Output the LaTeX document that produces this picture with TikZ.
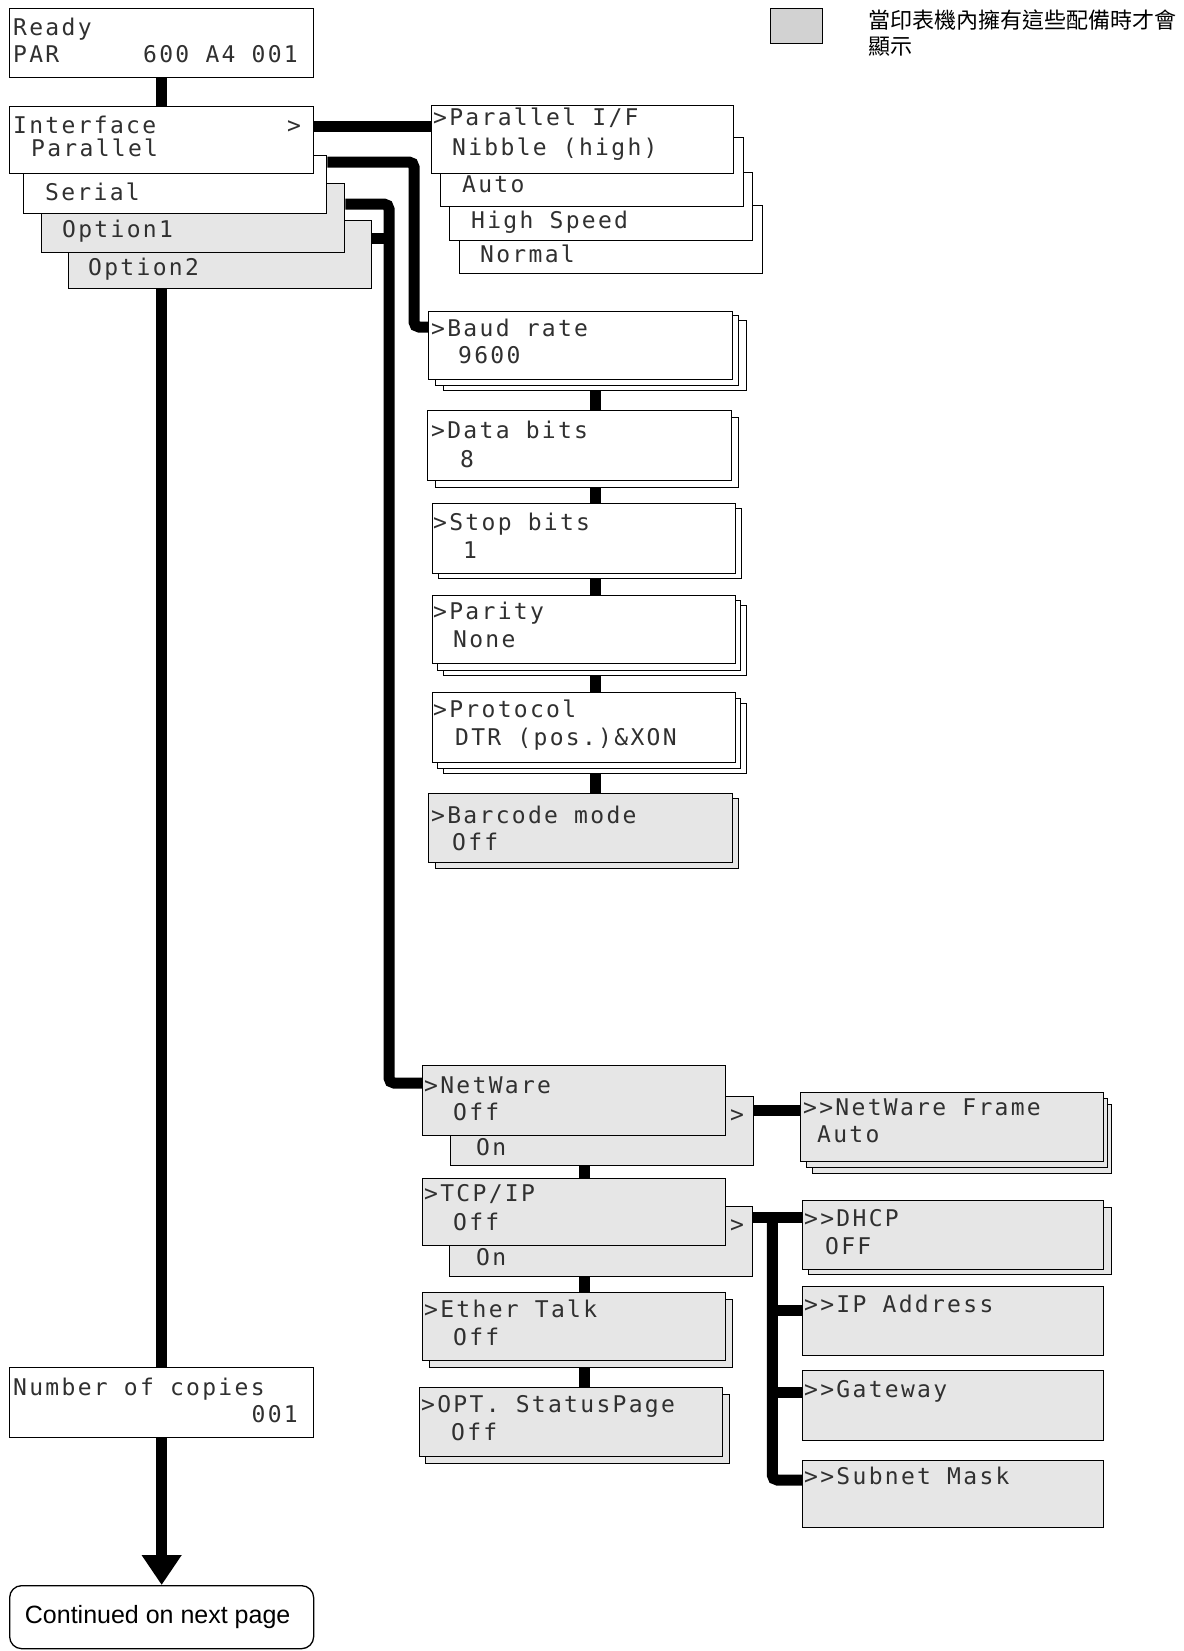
\documentclass[tikz,border=0pt]{standalone}
\usepackage{fontspec}
\setmainfont{Liberation Sans}
\newfontfamily\lcdfont[LetterSpace=10]{DejaVu Sans Mono}
\newfontfamily\cjkfont{Noto Sans CJK TC}
\usetikzlibrary{arrows.meta}
\definecolor{optgray}{HTML}{E6E6E6}
\definecolor{leggray}{HTML}{D2D2D2}
\definecolor{lcdink}{HTML}{303030}
\pgfdeclarelayer{bg}
\pgfsetlayers{bg,main}
\begin{document}
\begin{tikzpicture}[x=1pt,y=-1pt,
  box/.style={draw=black, line width=1.3pt, fill=white, anchor=north west, inner sep=0pt, minimum width=303pt, minimum height=68pt},
  opt/.style={box, fill=optgray},
  lcd/.style={anchor=base west, inner sep=0pt, text=lcdink, font=\lcdfont\fontsize{23}{28}\selectfont},
  lcdr/.style={lcd, anchor=base east},
  conn/.style={draw=black, line width=11pt, rounded corners=5pt},
  cjk/.style={anchor=base west, inner sep=0pt, font=\cjkfont\fontsize{22}{27}\selectfont}]
\useasboundingbox (0,0) rectangle (1183,1651);

% legend
\node[box, fill=leggray, minimum width=52pt, minimum height=35pt] (legend) at (770,8) {};
\node[cjk] (legend-t1) at (868,29) {當印表機內擁有這些配備時才會};
\node[cjk] (legend-t2) at (868,55) {顯示};

% main column
\node[box, minimum width=304pt, minimum height=69pt] (ready) at (9,8) {};
\node[lcd] (ready-t1) at (13,36) {Ready};
\node[lcd] (ready-t2) at (13,63) {PAR};
\node[lcdr] (ready-t3) at (298,63) {600 A4 001};

\node[opt] (option2) at (68,220) {};
\node[lcd] (option2-t) at (88,275) {Option2};
\node[opt, minimum height=69pt] (option1) at (41,183) {};
\node[lcd] (option1-t) at (62,237) {Option1};
\node[box, minimum height=58pt] (serial) at (23,155) {};
\node[lcd] (serial-t) at (45,200) {Serial};
\node[box, minimum width=304pt, minimum height=67pt] (interface) at (9,106) {};
\node[lcd] (interface-t1) at (13,133) {Interface};
\node[lcd] (interface-t2) at (31,157) {Parallel};
\node[lcd] (interface-t3) at (287,133) {>};

% parallel group
\node[box] (normal) at (459,205) {};
\node[lcd] (normal-t) at (480,262) {Normal};
\node[box] (highspeed) at (449,172) {};
\node[lcd] (highspeed-t) at (471,228) {High Speed};
\node[box, minimum height=69pt] (auto) at (440,137) {};
\node[lcd] (auto-t) at (462,192) {Auto};
\node[box, minimum width=302pt] (pif) at (431,105) {};
\node[lcd] (pif-t1) at (433,126) {>Parallel I/F};
\node[lcd] (pif-t2) at (452,155) {Nibble (high)};

% serial stack
\node[box, minimum height=70pt] (baud-s2) at (443,320) {};
\node[box, minimum height=70pt] (baud-s1) at (435,315) {};
\node[box, minimum width=304pt] (baud) at (428,311) {};
\node[lcd] (baud-t1) at (431,336) {>Baud rate};
\node[lcd] (baud-t2) at (458,363) {9600};

\node[box, minimum height=70pt] (data-s1) at (435,417) {};
\node[box, minimum width=304pt, minimum height=70pt] (data) at (427,410) {};
\node[lcd] (data-t1) at (431,438) {>Data bits};
\node[lcd] (data-t2) at (460,467) {8};

\node[box, minimum height=70pt] (stop-s1) at (438,508) {};
\node[box, minimum height=70pt] (stop) at (432,503) {};
\node[lcd] (stop-t1) at (433,530) {>Stop bits};
\node[lcd] (stop-t2) at (463,558) {1};

\node[box, minimum height=70pt] (parity-s2) at (443,605) {};
\node[box, minimum height=70pt] (parity-s1) at (437,600) {};
\node[box] (parity) at (432,595) {};
\node[lcd] (parity-t1) at (433,619) {>Parity};
\node[lcd] (parity-t2) at (453,647) {None};

\node[box, minimum height=70pt] (protocol-s2) at (443,703) {};
\node[box, minimum height=70pt] (protocol-s1) at (437,698) {};
\node[box, minimum height=70pt] (protocol) at (432,692) {};
\node[lcd] (protocol-t1) at (433,717) {>Protocol};
\node[lcd] (protocol-t2) at (455,745) {DTR (pos.)\&XON};

\node[opt, minimum height=70pt] (barcode-s1) at (435,798) {};
\node[opt, minimum width=304pt, minimum height=69pt] (barcode) at (428,793) {};
\node[lcd] (barcode-t1) at (431,823) {>Barcode mode};
\node[lcd] (barcode-t2) at (452,850) {Off};

% network stack
\node[opt, minimum height=69pt] (netOn) at (450,1096) {};
\node[lcd] (netOn-t) at (476,1155) {On};
\node[lcd] (netOn-m) at (730,1122) {>};
\node[opt, minimum height=70pt] (netware) at (422,1065) {};
\node[lcd] (netware-t1) at (424,1093) {>NetWare};
\node[lcd] (netware-t2) at (453,1120) {Off};

\node[opt, minimum height=70pt] (tcpOn) at (449,1206) {};
\node[lcd] (tcpOn-t) at (476,1265) {On};
\node[lcd] (tcpOn-m) at (730,1232) {>};
\node[opt, minimum height=67pt] (tcpip) at (422,1178) {};
\node[lcd] (tcpip-t1) at (424,1201) {>TCP/IP};
\node[lcd] (tcpip-t2) at (453,1230) {Off};

\node[opt] (ether-s1) at (429,1299) {};
\node[opt] (ether) at (422,1292) {};
\node[lcd] (ether-t1) at (424,1317) {>Ether Talk};
\node[lcd] (ether-t2) at (453,1345) {Off};

\node[opt, minimum width=304pt, minimum height=69pt] (optpage-s1) at (425,1394) {};
\node[opt, minimum height=69pt] (optpage) at (419,1387) {};
\node[lcd] (optpage-t1) at (421,1412) {>OPT. StatusPage};
\node[lcd] (optpage-t2) at (451,1440) {Off};

% right column
\node[opt, minimum width=299pt, minimum height=69pt] (nwf-s2) at (812,1104) {};
\node[opt, minimum width=301pt, minimum height=69pt] (nwf-s1) at (806,1098) {};
\node[opt, minimum height=69pt] (nwf) at (800,1092) {};
\node[lcd] (nwf-t1) at (803,1115) {>>NetWare Frame};
\node[lcd] (nwf-t2) at (817,1142) {Auto};

\node[opt, minimum height=67pt] (dhcp-s1) at (808,1207) {};
\node[opt, minimum width=301pt, minimum height=69pt] (dhcp) at (802,1200) {};
\node[lcd] (dhcp-t1) at (804,1226) {>>DHCP};
\node[lcd] (dhcp-t2) at (825,1254) {OFF};

\node[opt, minimum width=301pt, minimum height=69pt] (ipaddr) at (802,1286) {};
\node[lcd] (ipaddr-t) at (804,1312) {>>IP Address};
\node[opt, minimum width=301pt, minimum height=70pt] (gateway) at (802,1370) {};
\node[lcd] (gateway-t) at (804,1397) {>>Gateway};
\node[opt, minimum width=301pt, minimum height=67pt] (subnet) at (802,1460) {};
\node[lcd] (subnet-t) at (804,1484) {>>Subnet Mask};

% bottom
\node[box, minimum width=304pt, minimum height=70pt] (number) at (9,1367) {};
\node[lcd] (number-t1) at (13,1395) {Number of copies};
\node[lcdr] (number-t2) at (298,1422) {001};
\node[box, minimum width=304pt, minimum height=63pt, rounded corners=12pt] (cont) at (9,1585) {};
\node[inner sep=0pt, font=\fontsize{25}{30}\selectfont] (cont-t) at ([xshift=-4pt]cont.center) {Continued on next page};

% connectors
\coordinate (scol) at (595,0);
\coordinate (ncol) at (584,0);
\begin{pgfonlayer}{bg}
\draw[conn] (ready.south) -- (interface.north);
\draw[conn] (option2.south -| number.north) -- (number.north);
\draw[conn, -{Triangle[width=38pt,length=30pt]}] (number.south) -- (cont.north);
\draw[conn] ([yshift=-21pt]interface.north east) -- ([yshift=-22pt]pif.north west);
\draw[conn] ([yshift=-7pt]serial.north east) -| ([xshift=-14pt,yshift=-16pt]baud.north west) -- ([yshift=-16pt]baud.north west);
\draw[conn] ([yshift=-21pt]option1.north east) -| ([xshift=-33pt,yshift=-18pt]netware.north west) -- ([yshift=-18pt]netware.north west);
\draw[conn] ([yshift=-18pt]option2.north east) -- ++(20,0);
\draw[conn] (baud-s2.south -| scol) -- (data.north -| scol);
\draw[conn] (data-s1.south -| scol) -- (stop.north -| scol);
\draw[conn] (stop-s1.south -| scol) -- (parity.north -| scol);
\draw[conn] (parity-s2.south -| scol) -- (protocol.north -| scol);
\draw[conn] (protocol-s2.south -| scol) -- (barcode.north -| scol);
\draw[conn] (netOn.south -| ncol) -- (tcpip.north -| ncol);
\draw[conn] (tcpOn.south -| ncol) -- (ether.north -| ncol);
\draw[conn] (ether-s1.south -| ncol) -- (optpage.north -| ncol);
\draw[conn] ([yshift=-14pt]netOn.north east) -- ([yshift=-18pt]nwf.north west);
\draw[conn] ([yshift=-11pt]tcpOn.north east) -- ([yshift=-17pt]dhcp.north west);
\draw[conn] ([xshift=19pt,yshift=-11pt]tcpOn.north east) |- ([yshift=-20pt]subnet.north west);
\draw[conn] ([yshift=-24pt]ipaddr.north west) -- ++(-35,0);
\draw[conn] ([yshift=-22pt]gateway.north west) -- ++(-35,0);
\end{pgfonlayer}
\end{tikzpicture}
\end{document}
